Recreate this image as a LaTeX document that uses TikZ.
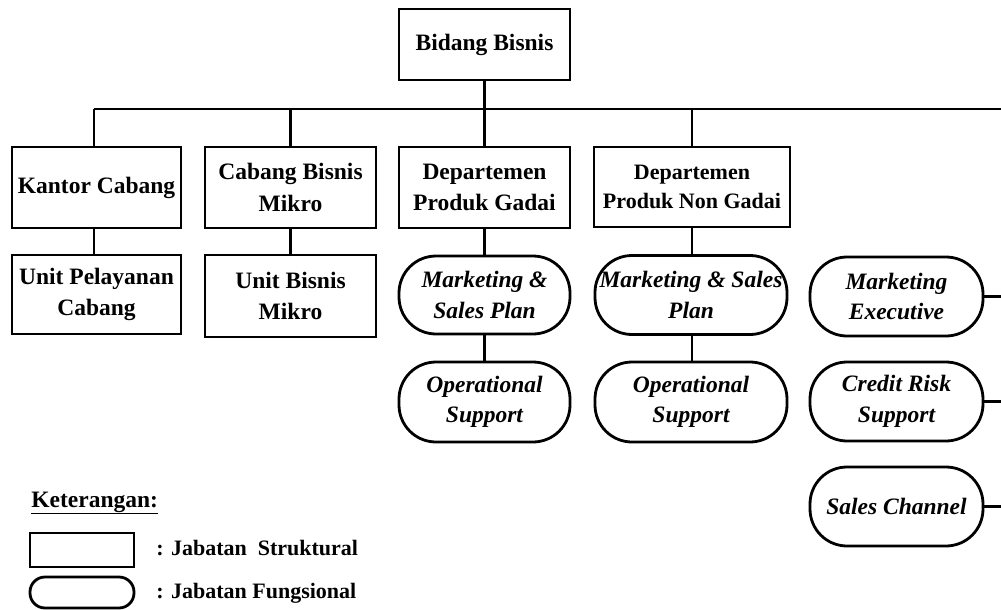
\documentclass[tikz,border=0pt]{standalone}
\usepackage{fontspec}
\setmainfont{Liberation Serif}
\begin{document}
\begin{tikzpicture}[x=1pt,y=-1pt, line width=2.8pt,
  struct/.style={draw, rectangle, inner sep=0pt, align=center,
    font=\fontsize{23.5}{31.5}\selectfont\bfseries},
  func/.style={draw, rectangle, rounded corners=37pt, inner sep=0pt, align=center,
    font=\fontsize{23.5}{30.5}\selectfont\bfseries\itshape},
  legtext/.style={anchor=west, inner sep=0pt, font=\fontsize{22}{26}\selectfont\bfseries}]
\useasboundingbox (0,0) rectangle (1001,610);

% top
\node[struct, minimum width=171pt, minimum height=71pt] (bb) at (484.5,44.5) {Bidang Bisnis};

% structural boxes
\node[struct, minimum width=169pt, minimum height=81pt] (kc) at (96.5,187.5) {Kantor Cabang};
\node[struct, minimum width=169pt, minimum height=79pt] (upc) at (96.5,294.5) {Unit Pelayanan\\Cabang};
\node[struct, minimum width=171pt, minimum height=81pt] (cbm) at (290.5,187.5) {Cabang Bisnis\\Mikro};
\node[struct, minimum width=171pt, minimum height=82pt] (ubm) at (290.5,296) {Unit Bisnis\\Mikro};
\node[struct, minimum width=171pt, minimum height=81pt] (dpg) at (484.5,187.5) {Departemen\\Produk Gadai};
\node[struct, minimum width=196pt, minimum height=80pt, font=\fontsize{22}{29}\selectfont\bfseries] (dpng) at (692,187) {Departemen\\Produk Non Gadai};

% functional
\node[func, minimum width=171pt, minimum height=78pt] (msp1) at (484.5,295) {Marketing \&\\Sales Plan};
\node[func, minimum width=171pt, minimum height=80pt] (os1) at (484.5,402) {Operational\\Support};
\node[func, minimum width=192pt, minimum height=79pt] (msp2) at (691,295) {Marketing \& Sales\\Plan};
\node[func, minimum width=192pt, minimum height=80pt] (os2) at (691,402) {Operational\\Support};
\node[func, minimum width=173pt, minimum height=79pt] (me) at (896.5,296.5) {Marketing\\Executive};
\node[func, minimum width=173pt, minimum height=79pt] (crs) at (896.5,401.5) {Credit Risk\\Support};
\node[func, minimum width=173pt, minimum height=79pt] (sc) at (896.5,506.5) {Sales Channel};

% bus
\coordinate (bus) at (0,109);
\coordinate (busR) at (1001,109);
\coordinate (edge) at (1001,0);
\coordinate (k0) at (94,0);
\draw (bb.south) -- (bb.south |- bus);
\draw (k0 |- bus) -- (busR);
\draw (k0 |- kc.north) -- (k0 |- bus);
\draw (cbm.north) -- (cbm.north |- bus);
\draw (dpg.north) -- (dpg.north |- bus);
\draw (dpng.north) -- (dpng.north |- bus);

% vertical links
\draw (k0 |- kc.south) -- (k0 |- upc.north);
\draw (cbm.south) -- (ubm.north);
\draw (dpg.south) -- (msp1.north);
\draw (msp1.south) -- (os1.north);
\draw (dpng.south) -- (dpng.south |- msp2.north);
\draw (dpng.south |- msp2.south) -- (dpng.south |- os2.north);

% right stubs
\draw (me.east) -- (me.east -| edge);
\draw (crs.east) -- (crs.east -| edge);
\draw (sc.east) -- (sc.east -| edge);

% legend
\node[anchor=west, inner sep=0pt, font=\fontsize{23.5}{28}\selectfont\bfseries] (ket) at (30,503) {\underline{Keterangan:}};
\node[draw, rectangle, minimum width=104pt, minimum height=34pt, inner sep=0pt] (lrect) at (82,550) {};
\node[draw, rectangle, rounded corners=15pt, minimum width=104pt, minimum height=31pt, inner sep=0pt] (lell) at (82,592.5) {};
\node[legtext] (lt1) at (155,548) {: Jabatan\ \ Struktural};
\node[legtext] (lt2) at (155,593) {: Jabatan Fungsional};
\end{tikzpicture}
\end{document}
